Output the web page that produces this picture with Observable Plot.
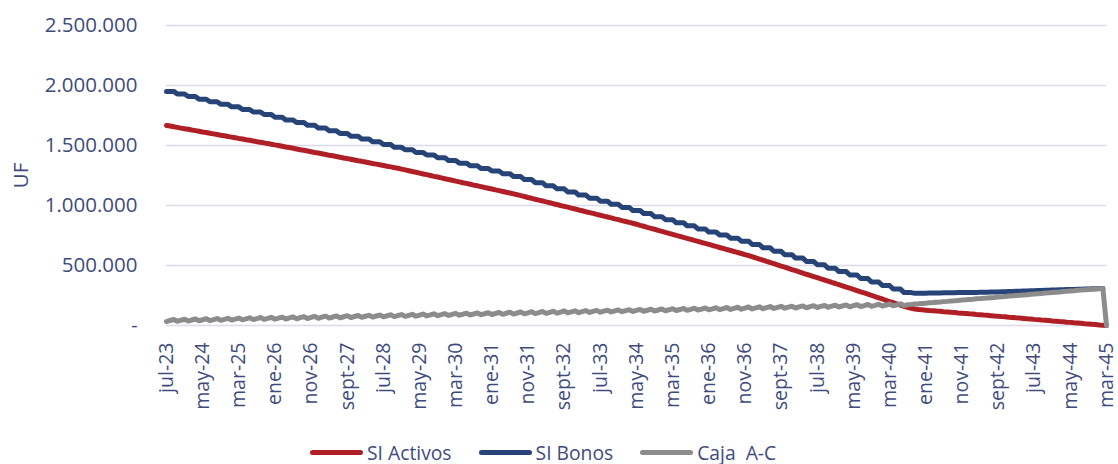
<!DOCTYPE html>
<html><head><meta charset="utf-8">
<script src="https://cdn.jsdelivr.net/npm/d3@7"></script>
<script src="https://cdn.jsdelivr.net/npm/@observablehq/plot@0.6"></script>
<style>
body{margin:0;background:#fff;font-family:"Open Sans",sans-serif;position:relative;width:1118px;height:464px;overflow:hidden;}
#legend{position:absolute;left:310px;top:439px;display:flex;align-items:center;font-size:19.3px;color:#3F4B7D;white-space:pre;}
#legend .item{display:flex;align-items:center;margin-right:27px;}
#legend .sw{display:inline-block;width:53px;height:5px;border-radius:3px;margin-right:4px;}
</style></head><body><div id="chart"></div><div id="legend"></div>
<script>
// x tick labels (every 10 months from jul-23, month index 0..260)
const xTickLabels = ["jul-23","may-24","mar-25","ene-26","nov-26","sept-27","jul-28","may-29","mar-30","ene-31","nov-31","sept-32","jul-33","may-34","mar-35","ene-36","nov-36","sept-37","jul-38","may-39","mar-40","ene-41","nov-41","sept-42","jul-43","may-44","mar-45"];
const yTicks = [0, 500000, 1000000, 1500000, 2000000, 2500000];
const yTickLabels = ["-", "500.000", "1.000.000", "1.500.000", "2.000.000", "2.500.000"];
const seriesNames = ["SI Activos", "SI Bonos", "Caja  A-C"];
const seriesColors = ["#B01F26", "#264478", "#8C8C8C"];

// values in thousands of UF, monthly from jul-23 to mar-45
const siActivos = [
1667,1662,1656,1651,1645,1640,1635,1629,1624,1619,1613,1608,1602,1597,1592,1586,1581,1575,1570,1565,1559,1554,1548,1543,1538,1532,1527,1522,1516,1511,1505,1500,
1494,1488,1483,1477,1471,1465,1460,1454,1448,1442,1437,1431,1425,1419,1414,1408,1402,1396,1391,1385,1379,1373,1368,1362,1356,1350,1345,1339,1333,1327,1322,1316,1310,
1303,1297,1290,1283,1277,1270,1263,1257,1250,1243,1237,1230,1223,1217,1210,1203,1197,1190,1184,1177,1170,1164,1157,1150,1144,1137,1130,1124,1117,1110,1104,1097,
1090,1082,1075,1067,1060,1052,1045,1038,1030,1023,1015,1008,1000,993,986,978,971,963,956,948,941,934,926,919,911,904,897,889,882,874,867,859,852,
844,835,827,818,810,802,793,785,776,768,760,751,743,734,726,718,709,701,692,684,676,667,659,650,642,633,625,617,608,600,591,583,
573,564,554,544,534,525,515,505,495,486,476,466,457,447,437,427,418,408,398,388,379,369,359,350,340,330,320,311,301,291,281,272,262,
252,241,231,221,210,200,190,180,170,160,151,144,138,134,131,128,125,123,
120,118,115,113,110,108,105,103,100,97,95,92,90,87,85,82,79,77,74,72,69,67,64,62,59,56,54,51,49,46,44,41,38,36,33,31,28,26,23,21,18,15,13,10,8,5,3,0
];
const siBonos = [
1951,1951,1951,1929,1929,1929,1908,1908,1908,1886,1886,1886,1865,1865,1865,1843,1843,1843,1822,1822,1822,1800,1800,1800,1779,1779,1779,1758,1758,1758,
1736,1736,1736,1713,1713,1713,1691,1691,1691,1668,1668,1668,1645,1645,1645,1622,1622,1622,1600,1600,1600,1577,1577,1577,1554,1554,1554,1531,1531,1531,
1509,1509,1509,1486,1486,1486,1464,1464,1464,1442,1442,1442,1420,1420,1420,1398,1398,1398,1375,1375,1375,1353,1353,1353,1331,1331,1331,1309,1309,1309,
1287,1287,1287,1265,1265,1265,1241,1241,1241,1216,1216,1216,1190,1190,1190,1164,1164,1164,1139,1139,1139,1113,1113,1113,1087,1087,1087,1061,1061,1061,
1036,1036,1036,1010,1010,1010,984,984,984,958,958,958,933,933,933,907,907,907,882,882,882,856,856,856,831,831,831,805,805,805,
779,779,779,754,754,754,728,728,728,703,703,703,675,675,675,647,647,647,619,619,619,590,590,590,562,562,562,534,534,534,
506,506,506,477,477,477,449,449,449,421,421,421,392,392,392,363,363,363,333,333,333,304,304,304,274,274,274,
268,268,269,269,270,270,271,271,272,272,273,273,274,274,275,275,276,276,277,277,278,279,279,280,
281,282,283,284,285,286,287,288,289,290,291,292,293,294,295,296,297,298,299,300,301,302,303,304,305,306,307,308,309,
null
];
const cajaAC = [
33,42,50,35,44,52,37,46,54,39,48,56,41,49,58,43,51,60,45,53,62,47,55,64,49,57,66,51,59,68,
53,61,70,54,63,72,56,65,74,58,67,76,60,69,78,62,71,80,64,73,82,66,75,83,68,77,85,70,79,87,
72,81,89,74,83,91,76,85,93,78,87,95,80,88,97,82,90,99,84,92,101,86,94,103,88,96,105,90,98,107,
92,100,109,93,102,111,95,104,113,97,106,115,99,108,117,101,110,119,103,112,121,105,114,122,107,116,124,109,118,126,
111,120,128,113,122,130,115,124,132,117,126,134,119,127,136,121,129,138,123,131,140,125,133,142,127,135,144,129,137,146,
131,139,148,132,141,150,134,143,152,136,145,154,138,147,156,140,149,158,142,151,160,144,153,161,146,155,163,148,157,165,
150,159,167,152,161,169,154,163,171,156,165,173,158,166,175,160,168,177,162,170,179,164,172,181,166,174,176,
179,181,184,186,189,191,194,196,199,201,204,206,209,212,214,217,219,222,224,227,229,232,234,237,
239,242,245,247,250,252,255,257,260,262,265,267,270,272,275,278,280,283,285,288,290,293,295,298,300,303,305,307,309,
0
];

const allSeries = [siActivos, siBonos, cajaAC];
const data = [];
allSeries.forEach((arr, k) => arr.forEach((v, i) => data.push({m: i, v: v == null ? null : v * 1000, s: seriesNames[k]})));
const xTickPos = xTickLabels.map((_, i) => i * 10);

const chart = Plot.plot({
  width: 1118,
  height: 430,
  marginLeft: 166,
  marginRight: 12,
  marginTop: 25,
  marginBottom: 105,
  style: {fontFamily: "'Open Sans', sans-serif", fontSize: "20px", color: "#3F4B7D", background: "#fff", overflow: "visible"},
  x: {domain: [0, 260]},
  y: {domain: [0, 2500000]},
  marks: [
    Plot.ruleY(yTicks, {stroke: "#D9DCEC", strokeWidth: 1.5}),
    Plot.axisY({ticks: yTicks, tickFormat: d => yTickLabels[yTicks.indexOf(d)], tickSize: 0, tickPadding: 29, fontSize: 20.5,
      label: "UF", labelAnchor: "center", labelArrow: "none", labelOffset: 153}),
    Plot.axisX({ticks: xTickPos, tickFormat: d => xTickLabels[xTickPos.indexOf(d)], tickSize: 0, tickPadding: 17, tickRotate: -90, fontSize: 19.5, label: null}),
    ...seriesNames.map((name, k) => Plot.lineY(data.filter(d => d.s === name), {
      x: "m", y: "v", stroke: seriesColors[k], strokeWidth: 5, strokeLinejoin: "round", strokeLinecap: "round"
    }))
  ]
});
document.getElementById("chart").appendChild(chart);

const legend = document.getElementById("legend");
seriesNames.forEach((name, k) => {
  const item = document.createElement("div");
  item.className = "item";
  const sw = document.createElement("span");
  sw.className = "sw";
  sw.style.background = seriesColors[k];
  const t = document.createElement("span");
  t.textContent = name;
  item.appendChild(sw); item.appendChild(t);
  legend.appendChild(item);
});
</script></body></html>
